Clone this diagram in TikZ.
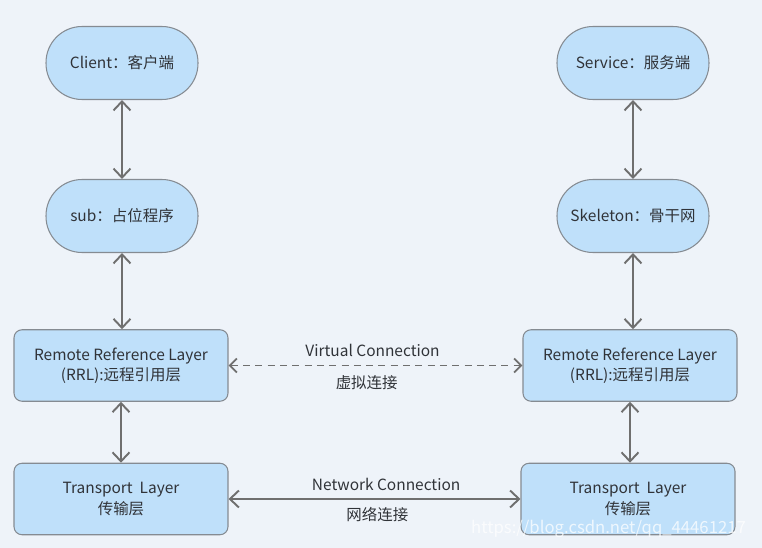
\documentclass[tikz,border=0pt]{standalone}
\usepackage{fontspec}
\setmainfont{Noto Sans CJK SC}
\usepackage{tikz}
\usetikzlibrary{arrows.meta}
\definecolor{bgc}{HTML}{EEF3F9}
\definecolor{boxc}{HTML}{BFE0FA}
\definecolor{edgec}{HTML}{858B92}
\definecolor{linec}{HTML}{6F6F6F}
\definecolor{txtc}{HTML}{303338}

\begin{document}
\begin{tikzpicture}[x=0.02cm, y=-0.02cm,
    every node/.style={font=\fontsize{8.8}{11.5}\selectfont, text=txtc},
    pill/.style={draw=edgec, fill=boxc, line width=0.6pt, rounded corners=0.72cm,
        minimum width=3.04cm, minimum height=1.46cm, inner sep=0pt},
    layer/.style={draw=edgec, fill=boxc, line width=0.6pt, rounded corners=0.16cm,
        minimum width=4.28cm, minimum height=1.43cm, inner sep=0pt, align=center},
    link/.style={linec, line width=1.1pt, {Straight Barb[length=1.8mm,width=3.4mm]}-{Straight Barb[length=1.8mm,width=3.4mm]}}]
            \useasboundingbox (0,0) rectangle (762,548);
            \fill[bgc] (0,0) rectangle (762,548);

            \node[pill] (client) at (122,63) {Client：客户端};
            \node[pill] (sub) at (122,216) {sub：占位程序};
            \node[layer] (rrlL) at (121,365.5) {Remote Reference Layer\\(RRL):远程引用层};
            \node[layer] (tlL) at (121,499) {Transport\ \ Layer\\传输层};

            \node[pill] (service) at (633,63) {Service：服务端};
            \node[pill] (skel) at (633,216) {Skeleton：骨干网};
            \node[layer] (rrlR) at (630,365.5) {Remote Reference Layer\\(RRL):远程引用层};
            \node[layer] (tlR) at (628,499) {Transport\ \ Layer\\传输层};

            \draw[link] (client) -- (sub);
            \draw[link] (sub) -- (sub.south |- rrlL.north);
            \draw[link] (rrlL) -- (tlL);

            \draw[link] (service) -- (skel);
            \draw[link] (skel.south) -- (skel.south |- rrlR.north);
            \draw[link] (rrlR.south) -- (rrlR.south |- tlR.north);

            \draw[link, dash pattern=on 4pt off 3pt, {Straight Barb[length=1.4mm,width=2.8mm]}-{Straight Barb[length=1.4mm,width=2.8mm]}] (rrlL.east) -- (rrlR.west)
                node[pos=0.49, above=1pt] (vc) {Virtual Connection}
                node[pos=0.47, below=2pt] (vcz) {虚拟连接};
            \draw[link] (tlL.east) -- (tlR.west)
                node[pos=0.54, above=1pt] (nc) {Network Connection}
                node[pos=0.51, below=1pt] (ncz) {网络连接};

            \node[text=white, opacity=0.75, font=\fontsize{9.5}{11}\selectfont, anchor=east] (wm) at (752,529) {https://blog.csdn.net/qq\_44461217};
        \end{tikzpicture}
\end{document}
